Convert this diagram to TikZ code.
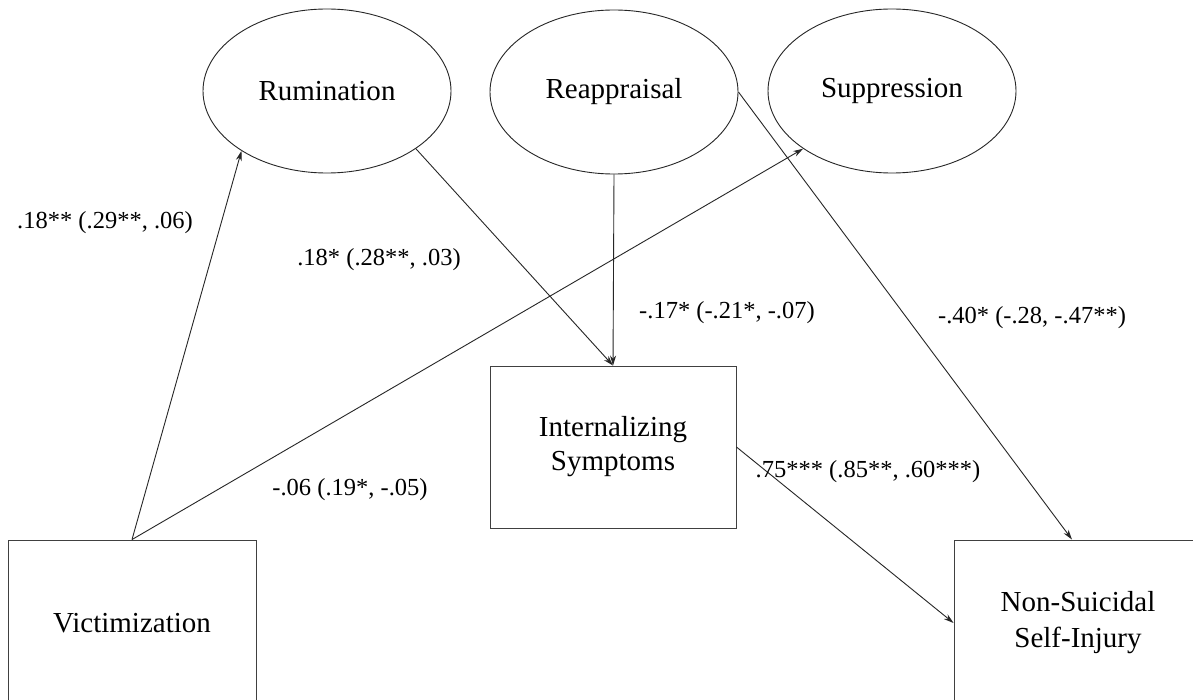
\documentclass[tikz,border=0pt]{standalone}
\usepackage{fontspec}
\setmainfont{Liberation Serif}
\usetikzlibrary{shapes.geometric,arrows.meta}
\begin{document}
\begin{tikzpicture}[x=1pt,y=-1pt,
  latent/.style={ellipse,draw=black!85,line width=0.9pt,minimum width=248pt,minimum height=164pt,inner sep=0pt,font=\fontsize{29}{34}\selectfont},
  observed/.style={rectangle,draw=black!75,line width=0.9pt,minimum width=248pt,minimum height=166pt,inner sep=0pt,align=center,font=\fontsize{29}{36}\selectfont},
  conn/.style={draw=black!85,line width=0.9pt,-{Stealth[length=10pt,width=6pt]}},
  coef/.style={font=\fontsize{24.5}{28}\selectfont,inner sep=0pt}
]
\path[use as bounding box,clip] (0,0) rectangle (1193,700);
\fill[white] (0,0) rectangle (1193,700);

\node[latent] (rum) at (327,91) {Rumination};
\node[latent] (rea) at (614,92) {Reappraisal};
\node[latent] (sup) at (892,91) {Suppression};

\node[observed] (vic) at (132,623) {Victimization};
\node[observed,minimum width=246pt,minimum height=162pt,font=\fontsize{29}{34}\selectfont] (int) at (613,447) {Internalizing\\Symptoms};
\node[observed] (nssi) at (1078,623) {Non-Suicidal\\Self-Injury};

\draw[conn] (vic.north) -- (rum.215);
\draw[conn] (vic.north) -- (sup.213);
\draw[conn] (rum.-33) -- (int.north);
\draw[conn] (rea.south) -- (int.north);
\draw[conn] (rea.east) -- ([xshift=-6pt]nssi.north);
\draw[conn] (int.east) -- (nssi.west);

\node[coef] (c1) at (105,223) {.18** (.29**, .06)};
\node[coef] (c2) at (379,260) {.18* (.28**, .03)};
\node[coef] (c3) at (727,313) {-.17* (-.21*, -.07)};
\node[coef] (c4) at (1032,318) {-.40* (-.28, -.47**)};
\node[coef] (c5) at (350,490) {-.06 (.19*, -.05)};
\node[coef] (c6) at (868,472) {.75*** (.85**, .60***)};
\end{tikzpicture}
\end{document}
